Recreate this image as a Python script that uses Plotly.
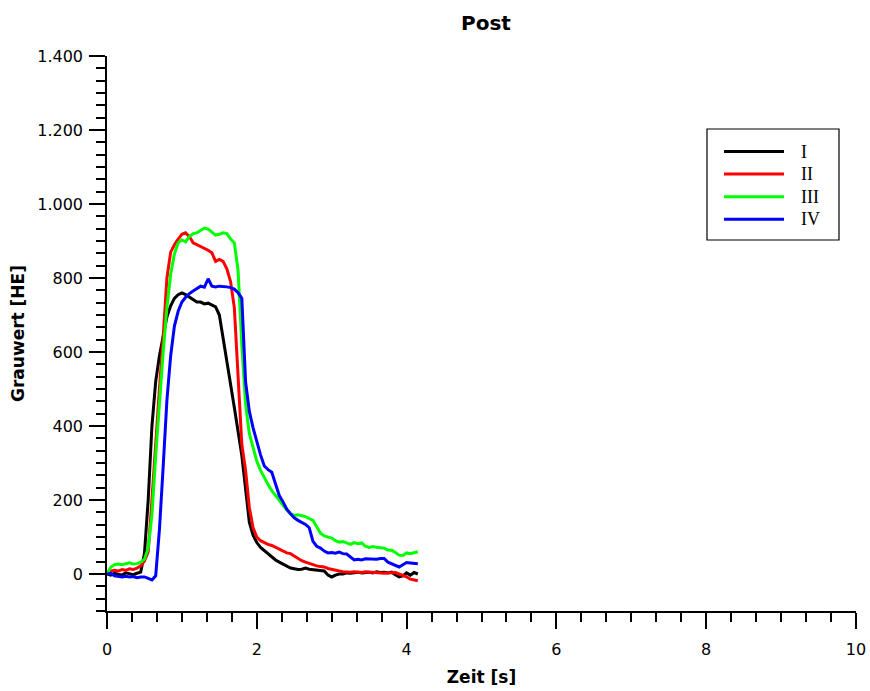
import plotly.graph_objects as go

# Zeit [s]
time_s = [round(i * 0.05, 2) for i in range(84)]

series_names = ["I", "II", "III", "IV"]
series_colors = ["#000000", "#ff0000", "#00ff00", "#0000ff"]

vals_I = [0, -3, 2, 0, -3, 3, 0, -2, 2, 5,
          55, 200, 400, 520, 590, 645, 695, 725, 745, 755,
          760, 755, 748, 740, 735, 735, 730, 732, 728, 722,
          700, 640, 580, 520, 450, 385, 320, 230, 140, 105,
          85, 72, 63, 55, 45, 38, 32, 27, 20, 16,
          14, 12, 13, 16, 13, 12, 12, 10, 8, -3,
          -8, -3, 0, 0, 3, 2, 3, 5, 3, 4,
          5, 3, 6, 4, 5, 3, 5, -2, -8, -5,
          3, -3, 4, 0]

vals_II = [0, 8, 10, 8, 12, 10, 14, 12, 16, 22,
           35, 60, 200, 360, 500, 640, 800, 870, 890, 905,
           918, 922, 912, 895, 890, 885, 882, 875, 868, 845,
           850, 845, 825, 790, 720, 520, 350, 280, 180, 125,
           100, 90, 84, 80, 77, 72, 68, 62, 57, 55,
           48, 42, 36, 32, 28, 24, 22, 20, 19, 15,
           12, 10, 8, 6, 5, 5, 6, 5, 4, 6,
           5, 3, 4, 3, 2, 3, 3, 4, 0, -3,
           -8, -14, -17, -18]

vals_III = [0, 18, 25, 27, 25, 28, 30, 27, 28, 32,
            40, 70, 160, 320, 470, 600, 720, 810, 865, 895,
            903, 898, 912, 920, 922, 928, 935, 932, 925, 916,
            918, 922, 920, 905, 895, 820, 620, 460, 380, 345,
            305, 280, 260, 242, 225, 212, 197, 185, 173, 163,
            158, 160, 158, 155, 150, 145, 128, 110, 103, 100,
            97, 90, 86, 88, 84, 80, 85, 82, 84, 75,
            72, 74, 72, 70, 70, 65, 64, 58, 51, 50,
            57, 55, 58, 60]

vals_IV = [0, 2, -5, -6, -8, -6, -8, -7, -10, -8,
           -8, -12, -16, -5, 120, 290, 470, 590, 670, 710,
           735, 748, 758, 765, 772, 778, 775, 798, 778, 776,
           778, 778, 776, 774, 770, 760, 745, 520, 440, 395,
           355, 322, 292, 282, 275, 240, 212, 195, 175, 163,
           152, 145, 140, 134, 125, 88, 75, 70, 62, 57,
           58, 56, 59, 55, 54, 45, 38, 40, 38, 41,
           40, 41, 40, 42, 42, 32, 28, 22, 19, 25,
           31, 30, 29, 28]

all_vals = [vals_I, vals_II, vals_III, vals_IV]

W, H = 870, 691
ML, MR, MT, MB = 107, 14, 56, 80
PW, PH = W - ML - MR, H - MT - MB


def px_to_paper(px, py):
    return (px - ML) / PW, 1 - (py - MT) / PH


fig = go.Figure()
for name, color, v in zip(series_names, series_colors, all_vals):
    fig.add_trace(go.Scatter(x=time_s, y=v, mode="lines", name=name,
                             line=dict(color=color, width=3), showlegend=False))

# legend box drawn as decoration
shapes = []
annotations = []
x0, y0 = px_to_paper(707, 129)
x1, y1 = px_to_paper(839, 240)
shapes.append(dict(type="rect", xref="paper", yref="paper", x0=x0, y0=y1, x1=x1, y1=y0,
                   line=dict(color="#000000", width=1.2), fillcolor="white", layer="above"))
for i, (name, color) in enumerate(zip(series_names, series_colors)):
    py = 151.5 + i * 22.6
    lx0, ly = px_to_paper(724, py)
    lx1, _ = px_to_paper(784, py)
    shapes.append(dict(type="line", xref="paper", yref="paper", x0=lx0, y0=ly, x1=lx1, y1=ly,
                       line=dict(color=color, width=3), layer="above"))
    tx, _ = px_to_paper(799, py)
    annotations.append(dict(text=name, xref="paper", yref="paper", x=tx, y=ly,
                            xanchor="left", yanchor="middle", showarrow=False,
                            font=dict(family="Liberation Serif", size=18, color="#000000")))

axis_font = dict(family="DejaVu Sans", size=16, color="#000000")
title_font = dict(family="DejaVu Sans", size=17, color="#000000")

fig.update_layout(
    width=W, height=H,
    margin=dict(l=ML, r=MR, t=MT, b=MB, autoexpand=False),
    paper_bgcolor="white", plot_bgcolor="white",
    separators=",.",
    title=dict(text="<b>Post</b>", x=0.506, xref="paper", xanchor="center",
               y=1 - 22.5 / H, yref="container", yanchor="middle",
               font=dict(family="DejaVu Sans", size=20, color="#000000")),
    showlegend=False,
    shapes=shapes,
    annotations=annotations,
)

fig.update_xaxes(
    range=[0, 10], dtick=2, tick0=0, automargin=False,
    showline=True, linecolor="#000000", linewidth=1.5,
    ticks="outside", ticklen=16, tickwidth=1.5, tickcolor="#000000",
    minor=dict(dtick=2 / 6, ticks="outside", ticklen=9, tickwidth=1.5, tickcolor="#000000"),
    showgrid=False, zeroline=False,
    tickfont=axis_font, ticklabelstandoff=7,
    title=dict(text="<b>Zeit [s]</b>", font=title_font, standoff=13),
)
fig.update_yaxes(
    range=[-100, 1400], dtick=200, tick0=0, tickformat=",d", automargin=False,
    showline=True, linecolor="#000000", linewidth=1.5,
    ticks="outside", ticklen=16, tickwidth=1.5, tickcolor="#000000",
    minor=dict(dtick=200 / 6, tick0=0, ticks="outside", ticklen=9, tickwidth=1.5, tickcolor="#000000"),
    showgrid=False, zeroline=False,
    tickfont=axis_font, ticklabelstandoff=3,
    title=dict(text="<b>Grauwert [HE]</b>", font=title_font, standoff=8),
)

fig.write_html("out.html")
